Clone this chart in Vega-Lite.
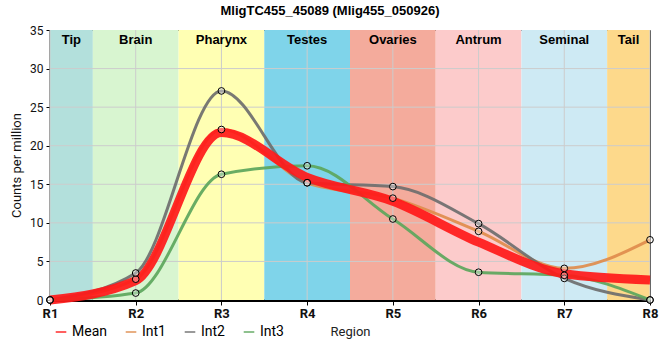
{
  "$schema": "https://vega.github.io/schema/vega-lite/v6.json",
  "width": 600,
  "height": 270,
  "autosize": {"type": "none"},
  "padding": {"left": 50, "top": 30, "right": 10, "bottom": 60},
  "title": {"text": "MligTC455_45089 (Mlig455_050926)", "font": "Liberation Sans", "fontSize": 13, "fontWeight": "bold", "color": "#000", "offset": 6, "dx": -20},
  "config": {
    "view": {"stroke": "#000", "strokeWidth": 1},
    "axis": {"grid": false, "labelOverlap": false, "labelFlush": false},
    "axisY": {"values": [0, 5, 10, 15, 20, 25, 30, 35], "domainColor": "#000", "domainWidth": 2, "tickColor": "#000", "tickSize": 4,
              "labelPadding": 3, "labelFont": "Roboto", "labelFontSize": 12, "labelColor": "#111",
              "titleFont": "Roboto", "titleFontSize": 13, "titleFontWeight": "normal", "titleColor": "#111", "titlePadding": 6}
  },
  "datasets": {
    "bands": [
      {"band": "Tip", "x1": 1, "x2": 1.5},
      {"band": "Brain", "x1": 1.5, "x2": 2.5},
      {"band": "Pharynx", "x1": 2.5, "x2": 3.5},
      {"band": "Testes", "x1": 3.5, "x2": 4.5},
      {"band": "Ovaries", "x1": 4.5, "x2": 5.5},
      {"band": "Antrum", "x1": 5.5, "x2": 6.5},
      {"band": "Seminal", "x1": 6.5, "x2": 7.5},
      {"band": "Tail", "x1": 7.5, "x2": 8}
    ],
    "grid": [{"g": 5}, {"g": 10}, {"g": 15}, {"g": 20}, {"g": 25}, {"g": 30}],
    "series": [
      {"r": 1, "s": "Mean", "v": 0}, {"r": 2, "s": "Mean", "v": 2.5}, {"r": 3, "s": "Mean", "v": 21.7}, {"r": 4, "s": "Mean", "v": 15.9},
      {"r": 5, "s": "Mean", "v": 12.8}, {"r": 6, "s": "Mean", "v": 7.5}, {"r": 7, "s": "Mean", "v": 3.4}, {"r": 8, "s": "Mean", "v": 2.6},
      {"r": 1, "s": "Int1", "v": 0}, {"r": 2, "s": "Int1", "v": 2.7}, {"r": 3, "s": "Int1", "v": 22.1}, {"r": 4, "s": "Int1", "v": 15.2},
      {"r": 5, "s": "Int1", "v": 13.2}, {"r": 6, "s": "Int1", "v": 8.9}, {"r": 7, "s": "Int1", "v": 4.1}, {"r": 8, "s": "Int1", "v": 7.8},
      {"r": 1, "s": "Int2", "v": 0}, {"r": 2, "s": "Int2", "v": 3.5}, {"r": 3, "s": "Int2", "v": 27.1}, {"r": 4, "s": "Int2", "v": 15.2},
      {"r": 5, "s": "Int2", "v": 14.7}, {"r": 6, "s": "Int2", "v": 9.9}, {"r": 7, "s": "Int2", "v": 2.8}, {"r": 8, "s": "Int2", "v": 0},
      {"r": 1, "s": "Int3", "v": 0}, {"r": 2, "s": "Int3", "v": 0.9}, {"r": 3, "s": "Int3", "v": 16.3}, {"r": 4, "s": "Int3", "v": 17.4},
      {"r": 5, "s": "Int3", "v": 10.5}, {"r": 6, "s": "Int3", "v": 3.6}, {"r": 7, "s": "Int3", "v": 3.2}, {"r": 8, "s": "Int3", "v": 0}
    ]
  },
  "layer": [
    {
      "data": {"name": "bands"},
      "mark": {"type": "rect"},
      "encoding": {
        "x": {"field": "x1", "type": "quantitative", "title": "Region", "scale": {"domain": [1, 8], "nice": false, "zero": false},
          "axis": {"values": [1, 2, 3, 4, 5, 6, 7, 8], "labelExpr": "'R' + datum.value", "domainColor": "#000", "domainWidth": 3,
                   "tickColor": "#000", "tickSize": 5, "labelPadding": 2, "labelFont": "Roboto", "labelFontWeight": "bold", "labelFontSize": 13,
                   "labelColor": "#111", "titleFont": "Roboto", "titleFontSize": 13, "titleFontWeight": "normal", "titleColor": "#222", "titlePadding": 5}},
        "x2": {"field": "x2"},
        "y": {"datum": 0, "type": "quantitative", "title": "Counts per million", "scale": {"domain": [0, 35], "nice": false}},
        "y2": {"datum": 35},
        "fill": {"field": "band", "type": "nominal", "legend": null,
          "scale": {"domain": ["Tip", "Brain", "Pharynx", "Testes", "Ovaries", "Antrum", "Seminal", "Tail"],
                    "range": ["#b3e0dc", "#d8f5d0", "#ffffb3", "#7fd4ea", "#f4ab9c", "#fccbcb", "#ceeaf4", "#fdd98b"]}}
      }
    },
    {
      "data": {"name": "grid"},
      "mark": {"type": "rule", "color": "#cccccc", "strokeWidth": 1},
      "encoding": {
        "y": {"field": "g", "type": "quantitative", "title": "Counts per million"}
      }
    },
    {
      "data": {"name": "series"},
      "transform": [{"filter": "datum.s == 'Mean'"}],
      "mark": {"type": "rule", "color": "#cccccc", "strokeWidth": 1},
      "encoding": {
        "x": {"field": "r", "type": "quantitative", "title": "Region"}
      }
    },
    {
      "data": {"name": "series"},
      "transform": [{"filter": "datum.s != 'Mean'"}],
      "mark": {"type": "line", "interpolate": "monotone", "opacity": 0.92, "strokeWidth": 3},
      "encoding": {
        "x": {"field": "r", "type": "quantitative", "title": "Region"},
        "y": {"field": "v", "type": "quantitative", "title": "Counts per million"},
        "stroke": {"field": "s", "type": "nominal",
          "scale": {"domain": ["Mean", "Int1", "Int2", "Int3"], "range": ["#ff1a1a", "#df8c4c", "#6e6e6e", "#5ca65c"]},
          "legend": {"title": null, "orient": "none", "legendX": 4, "legendY": 295, "direction": "horizontal",
                     "symbolType": "stroke", "symbolSize": 112, "labelFont": "Roboto", "labelFontSize": 14, "labelOffset": 4,
                     "columnPadding": 15, "padding": 0,
                     "encode": {"labels": {"update": {"fill": {"scale": "stroke", "field": "value"}, "opacity": {"value": 0.85}}},
                                "symbols": {"update": {"strokeWidth": {"signal": "datum.value == 'Mean' ? 7 : 3"}, "opacity": {"value": 0.9}}}}}}
      }
    },
    {
      "data": {"name": "series"},
      "transform": [{"filter": "datum.s == 'Mean'"}],
      "mark": {"type": "line", "interpolate": "monotone", "opacity": 0.93, "strokeWidth": 9},
      "encoding": {
        "x": {"field": "r", "type": "quantitative", "title": "Region"},
        "y": {"field": "v", "type": "quantitative", "title": "Counts per million"},
        "stroke": {"field": "s", "type": "nominal"}
      }
    },
    {
      "data": {"name": "series"},
      "transform": [{"filter": "datum.s != 'Mean'"}],
      "mark": {"type": "point", "shape": "circle", "filled": true, "fill": "#ffffff", "fillOpacity": 0.35, "stroke": "#000", "strokeWidth": 1, "size": 45, "opacity": 1},
      "encoding": {
        "x": {"field": "r", "type": "quantitative", "title": "Region"},
        "y": {"field": "v", "type": "quantitative", "title": "Counts per million"}
      }
    },
    {
      "data": {"name": "bands"},
      "transform": [{"calculate": "(datum.x1 + datum.x2) / 2", "as": "mid"}],
      "mark": {"type": "text", "font": "Liberation Sans", "fontWeight": "bold", "fontSize": 13, "dy": 10, "baseline": "middle", "color": "#000"},
      "encoding": {
        "x": {"field": "mid", "type": "quantitative", "title": "Region"},
        "y": {"datum": 35, "type": "quantitative"},
        "text": {"field": "band"}
      }
    }
  ]
}
